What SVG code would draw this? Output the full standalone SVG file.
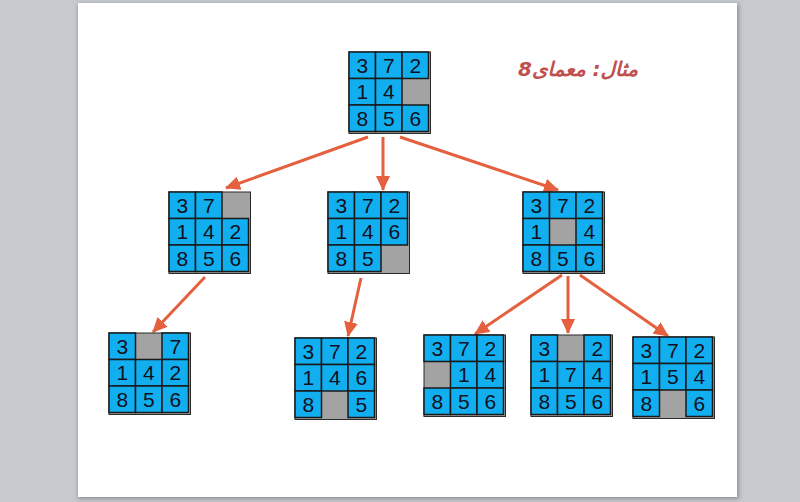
<svg xmlns="http://www.w3.org/2000/svg" width="800" height="502" viewBox="0 0 800 502">
<style>
.bk{fill:#a3a3a3;stroke:#2a2a2a;stroke-width:1}
.c{fill:#12aff0;stroke:#1a1a1a;stroke-width:1.5}
.t{font-family:"Liberation Sans",Arial,sans-serif;font-size:21px;fill:#101020;text-anchor:middle}
.a{stroke:#e4603e;stroke-width:3;fill:none;marker-end:url(#ah)}
</style>
<defs>
<marker id="ah" markerUnits="userSpaceOnUse" markerWidth="16" markerHeight="14" refX="14" refY="7" orient="auto">
<path d="M0,0 L15,7 L0,14 Z" fill="#e4603e"/>
</marker>
<filter id="sh" x="-5%" y="-5%" width="110%" height="110%"><feGaussianBlur stdDeviation="2"/></filter>
</defs>
<rect width="800" height="502" fill="#c6c9cd"/>
<rect x="78" y="4" width="661" height="495" fill="#8e9296" filter="url(#sh)"/>
<rect x="78" y="3" width="659" height="494" fill="#ffffff"/>
<text x="578" y="76" font-family="DejaVu Sans,sans-serif" font-size="20" font-weight="bold" fill="#c0504d" text-anchor="middle" direction="rtl" font-style="italic">مثال: معمای8</text>
<g id="connectors">
<line class="a" x1="368" y1="137" x2="226" y2="188"/>
<line class="a" x1="383" y1="137" x2="383" y2="190"/>
<line class="a" x1="400" y1="137" x2="558" y2="190"/>
<line class="a" x1="205" y1="277" x2="153" y2="332"/>
<line class="a" x1="361" y1="278" x2="348" y2="336"/>
<line class="a" x1="562" y1="275" x2="475" y2="334"/>
<line class="a" x1="568" y1="276" x2="568" y2="333"/>
<line class="a" x1="580" y1="275" x2="668" y2="336"/>
</g>
<g id="n0" transform="translate(349,52)">
<rect class="bk" x="0" y="0" width="81.5" height="81.5"/>
<rect class="c" x="0" y="0" width="26.5" height="26.5"/><rect class="c" x="26.5" y="0" width="26.5" height="26.5"/><rect class="c" x="53" y="0" width="26.5" height="26.5"/>
<rect class="c" x="0" y="26.5" width="26.5" height="26.5"/><rect class="c" x="26.5" y="26.5" width="26.5" height="26.5"/>
<rect class="c" x="0" y="53" width="26.5" height="26.5"/><rect class="c" x="26.5" y="53" width="26.5" height="26.5"/><rect class="c" x="53" y="53" width="26.5" height="26.5"/>
<text class="t" x="13.25" y="20.8">3</text><text class="t" x="39.75" y="20.8">7</text><text class="t" x="66.25" y="20.8">2</text>
<text class="t" x="13.25" y="47.3">1</text><text class="t" x="39.75" y="47.3">4</text>
<text class="t" x="13.25" y="73.8">8</text><text class="t" x="39.75" y="73.8">5</text><text class="t" x="66.25" y="73.8">6</text>
</g>
<g id="n1" transform="translate(169,192)">
<rect class="bk" x="0" y="0" width="81.5" height="81.5"/>
<rect class="c" x="0" y="0" width="26.5" height="26.5"/><rect class="c" x="26.5" y="0" width="26.5" height="26.5"/>
<rect class="c" x="0" y="26.5" width="26.5" height="26.5"/><rect class="c" x="26.5" y="26.5" width="26.5" height="26.5"/><rect class="c" x="53" y="26.5" width="26.5" height="26.5"/>
<rect class="c" x="0" y="53" width="26.5" height="26.5"/><rect class="c" x="26.5" y="53" width="26.5" height="26.5"/><rect class="c" x="53" y="53" width="26.5" height="26.5"/>
<text class="t" x="13.25" y="20.8">3</text><text class="t" x="39.75" y="20.8">7</text>
<text class="t" x="13.25" y="47.3">1</text><text class="t" x="39.75" y="47.3">4</text><text class="t" x="66.25" y="47.3">2</text>
<text class="t" x="13.25" y="73.8">8</text><text class="t" x="39.75" y="73.8">5</text><text class="t" x="66.25" y="73.8">6</text>
</g>
<g id="n2" transform="translate(328,192)">
<rect class="bk" x="0" y="0" width="81.5" height="81.5"/>
<rect class="c" x="0" y="0" width="26.5" height="26.5"/><rect class="c" x="26.5" y="0" width="26.5" height="26.5"/><rect class="c" x="53" y="0" width="26.5" height="26.5"/>
<rect class="c" x="0" y="26.5" width="26.5" height="26.5"/><rect class="c" x="26.5" y="26.5" width="26.5" height="26.5"/><rect class="c" x="53" y="26.5" width="26.5" height="26.5"/>
<rect class="c" x="0" y="53" width="26.5" height="26.5"/><rect class="c" x="26.5" y="53" width="26.5" height="26.5"/>
<text class="t" x="13.25" y="20.8">3</text><text class="t" x="39.75" y="20.8">7</text><text class="t" x="66.25" y="20.8">2</text>
<text class="t" x="13.25" y="47.3">1</text><text class="t" x="39.75" y="47.3">4</text><text class="t" x="66.25" y="47.3">6</text>
<text class="t" x="13.25" y="73.8">8</text><text class="t" x="39.75" y="73.8">5</text>
</g>
<g id="n3" transform="translate(523,192)">
<rect class="bk" x="0" y="0" width="81.5" height="81.5"/>
<rect class="c" x="0" y="0" width="26.5" height="26.5"/><rect class="c" x="26.5" y="0" width="26.5" height="26.5"/><rect class="c" x="53" y="0" width="26.5" height="26.5"/>
<rect class="c" x="0" y="26.5" width="26.5" height="26.5"/><rect class="c" x="53" y="26.5" width="26.5" height="26.5"/>
<rect class="c" x="0" y="53" width="26.5" height="26.5"/><rect class="c" x="26.5" y="53" width="26.5" height="26.5"/><rect class="c" x="53" y="53" width="26.5" height="26.5"/>
<text class="t" x="13.25" y="20.8">3</text><text class="t" x="39.75" y="20.8">7</text><text class="t" x="66.25" y="20.8">2</text>
<text class="t" x="13.25" y="47.3">1</text><text class="t" x="66.25" y="47.3">4</text>
<text class="t" x="13.25" y="73.8">8</text><text class="t" x="39.75" y="73.8">5</text><text class="t" x="66.25" y="73.8">6</text>
</g>
<g id="n4" transform="translate(109,333)">
<rect class="bk" x="0" y="0" width="81.5" height="81.5"/>
<rect class="c" x="0" y="0" width="26.5" height="26.5"/><rect class="c" x="53" y="0" width="26.5" height="26.5"/>
<rect class="c" x="0" y="26.5" width="26.5" height="26.5"/><rect class="c" x="26.5" y="26.5" width="26.5" height="26.5"/><rect class="c" x="53" y="26.5" width="26.5" height="26.5"/>
<rect class="c" x="0" y="53" width="26.5" height="26.5"/><rect class="c" x="26.5" y="53" width="26.5" height="26.5"/><rect class="c" x="53" y="53" width="26.5" height="26.5"/>
<text class="t" x="13.25" y="20.8">3</text><text class="t" x="66.25" y="20.8">7</text>
<text class="t" x="13.25" y="47.3">1</text><text class="t" x="39.75" y="47.3">4</text><text class="t" x="66.25" y="47.3">2</text>
<text class="t" x="13.25" y="73.8">8</text><text class="t" x="39.75" y="73.8">5</text><text class="t" x="66.25" y="73.8">6</text>
</g>
<g id="n5" transform="translate(295,338)">
<rect class="bk" x="0" y="0" width="81.5" height="81.5"/>
<rect class="c" x="0" y="0" width="26.5" height="26.5"/><rect class="c" x="26.5" y="0" width="26.5" height="26.5"/><rect class="c" x="53" y="0" width="26.5" height="26.5"/>
<rect class="c" x="0" y="26.5" width="26.5" height="26.5"/><rect class="c" x="26.5" y="26.5" width="26.5" height="26.5"/><rect class="c" x="53" y="26.5" width="26.5" height="26.5"/>
<rect class="c" x="0" y="53" width="26.5" height="26.5"/><rect class="c" x="53" y="53" width="26.5" height="26.5"/>
<text class="t" x="13.25" y="20.8">3</text><text class="t" x="39.75" y="20.8">7</text><text class="t" x="66.25" y="20.8">2</text>
<text class="t" x="13.25" y="47.3">1</text><text class="t" x="39.75" y="47.3">4</text><text class="t" x="66.25" y="47.3">6</text>
<text class="t" x="13.25" y="73.8">8</text><text class="t" x="66.25" y="73.8">5</text>
</g>
<g id="n6" transform="translate(424,335)">
<rect class="bk" x="0" y="0" width="81.5" height="81.5"/>
<rect class="c" x="0" y="0" width="26.5" height="26.5"/><rect class="c" x="26.5" y="0" width="26.5" height="26.5"/><rect class="c" x="53" y="0" width="26.5" height="26.5"/>
<rect class="c" x="26.5" y="26.5" width="26.5" height="26.5"/><rect class="c" x="53" y="26.5" width="26.5" height="26.5"/>
<rect class="c" x="0" y="53" width="26.5" height="26.5"/><rect class="c" x="26.5" y="53" width="26.5" height="26.5"/><rect class="c" x="53" y="53" width="26.5" height="26.5"/>
<text class="t" x="13.25" y="20.8">3</text><text class="t" x="39.75" y="20.8">7</text><text class="t" x="66.25" y="20.8">2</text>
<text class="t" x="39.75" y="47.3">1</text><text class="t" x="66.25" y="47.3">4</text>
<text class="t" x="13.25" y="73.8">8</text><text class="t" x="39.75" y="73.8">5</text><text class="t" x="66.25" y="73.8">6</text>
</g>
<g id="n7" transform="translate(531,335)">
<rect class="bk" x="0" y="0" width="81.5" height="81.5"/>
<rect class="c" x="0" y="0" width="26.5" height="26.5"/><rect class="c" x="53" y="0" width="26.5" height="26.5"/>
<rect class="c" x="0" y="26.5" width="26.5" height="26.5"/><rect class="c" x="26.5" y="26.5" width="26.5" height="26.5"/><rect class="c" x="53" y="26.5" width="26.5" height="26.5"/>
<rect class="c" x="0" y="53" width="26.5" height="26.5"/><rect class="c" x="26.5" y="53" width="26.5" height="26.5"/><rect class="c" x="53" y="53" width="26.5" height="26.5"/>
<text class="t" x="13.25" y="20.8">3</text><text class="t" x="66.25" y="20.8">2</text>
<text class="t" x="13.25" y="47.3">1</text><text class="t" x="39.75" y="47.3">7</text><text class="t" x="66.25" y="47.3">4</text>
<text class="t" x="13.25" y="73.8">8</text><text class="t" x="39.75" y="73.8">5</text><text class="t" x="66.25" y="73.8">6</text>
</g>
<g id="n8" transform="translate(633,337)">
<rect class="bk" x="0" y="0" width="81.5" height="81.5"/>
<rect class="c" x="0" y="0" width="26.5" height="26.5"/><rect class="c" x="26.5" y="0" width="26.5" height="26.5"/><rect class="c" x="53" y="0" width="26.5" height="26.5"/>
<rect class="c" x="0" y="26.5" width="26.5" height="26.5"/><rect class="c" x="26.5" y="26.5" width="26.5" height="26.5"/><rect class="c" x="53" y="26.5" width="26.5" height="26.5"/>
<rect class="c" x="0" y="53" width="26.5" height="26.5"/><rect class="c" x="53" y="53" width="26.5" height="26.5"/>
<text class="t" x="13.25" y="20.8">3</text><text class="t" x="39.75" y="20.8">7</text><text class="t" x="66.25" y="20.8">2</text>
<text class="t" x="13.25" y="47.3">1</text><text class="t" x="39.75" y="47.3">5</text><text class="t" x="66.25" y="47.3">4</text>
<text class="t" x="13.25" y="73.8">8</text><text class="t" x="66.25" y="73.8">6</text>
</g>
</svg>
